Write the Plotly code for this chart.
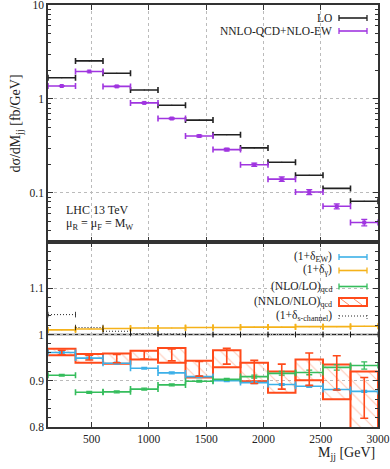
import plotly.graph_objects as go

# -----------------------------
# Data
# -----------------------------
bin_edges = [120, 360, 600, 840, 1080, 1320, 1560, 1800, 2040, 2280, 2520, 2760, 3000]

lo_xsec = [1.68, 2.54, 1.88, 1.245, 0.857, 0.595, 0.416, 0.301, 0.212, 0.154, 0.1116, 0.0813]
nnlo_xsec = [1.373, 1.96, 1.36, 0.907, 0.619, 0.403, 0.289, 0.199, 0.140, 0.102, 0.072, 0.0484]
nnlo_relerr = [0.005, 0.005, 0.01, 0.01, 0.015, 0.02, 0.03, 0.04, 0.055, 0.06, 0.06, 0.08]

delta_ew = [0.961, 0.949, 0.938, 0.927, 0.917, 0.909, 0.900, 0.896, 0.892, 0.888, 0.881, 0.877]
delta_gamma = [1.010, 1.012, 1.013, 1.014, 1.014, 1.015, 1.015, 1.016, 1.016, 1.017, 1.017, 1.018]
nlo_lo_qcd = [0.912, 0.875, 0.876, 0.882, 0.891, 0.899, 0.903, 0.909, 0.916, 0.918, 0.929, 0.933]
nlo_lo_err = [0.002, 0.002, 0.002, 0.002, 0.002, 0.002, 0.002, 0.003, 0.004, 0.005, 0.006, 0.008]
nnlo_nlo_qcd = [0.961, 0.950, 0.948, 0.956, 0.956, 0.926, 0.953, 0.919, 0.909, 0.925, 0.917, 0.863]
nnlo_nlo_err = [0.005, 0.005, 0.009, 0.009, 0.013, 0.016, 0.017, 0.025, 0.027, 0.035, 0.037, 0.044]
nnlo_nlo_band_lo = [0.955, 0.939, 0.937, 0.946, 0.939, 0.907, 0.929, 0.899, 0.874, 0.901, 0.860, 0.780]
nnlo_nlo_band_hi = [0.969, 0.958, 0.959, 0.965, 0.971, 0.943, 0.966, 0.939, 0.920, 0.946, 0.935, 0.920]
delta_schannel = [1.043, 1.015, 1.007, 1.002, 1.001, 1.000, 1.000, 1.000, 1.000, 1.000, 1.000, 1.000]

centers = [(a + b) / 2 for a, b in zip(bin_edges[:-1], bin_edges[1:])]
half_w = [(b - a) / 2 for a, b in zip(bin_edges[:-1], bin_edges[1:])]

# -----------------------------
# Style
# -----------------------------
FONT = "Liberation Serif"
C_LO = "#222222"
C_NNLO = "#a035e0"
C_EW = "#3cb0e8"
C_GAM = "#f5b21a"
C_NLO = "#35bd5c"
C_RED = "#ff4a1a"
SPLIT = 0.4384  # lower panel fraction of plot height

fig = go.Figure()


def hbins(y, color, xaxis, yaxis, yerr=None, marker=False):
    return go.Scatter(
        x=centers, y=y, xaxis=xaxis, yaxis=yaxis, mode="markers",
        marker=dict(color=color, size=4 if marker else 1, symbol="square"),
        error_x=dict(type="data", array=half_w, color=color, thickness=1.6, width=3),
        error_y=dict(type="data", array=yerr, color=color, thickness=1.3, width=3,
                     visible=yerr is not None),
        showlegend=False, hoverinfo="skip",
    )


# upper panel
fig.add_trace(hbins(lo_xsec, C_LO, "x", "y"))
fig.add_trace(hbins(nnlo_xsec, C_NNLO, "x", "y",
                    yerr=[v * e for v, e in zip(nnlo_xsec, nnlo_relerr)], marker=True))

# lower panel: hatched NNLO/NLO band
fig.add_trace(go.Bar(
    x=centers, y=[h - l for h, l in zip(nnlo_nlo_band_hi, nnlo_nlo_band_lo)],
    base=nnlo_nlo_band_lo, width=[2 * w for w in half_w], xaxis="x2", yaxis="y2",
    marker=dict(color="rgba(0,0,0,0)", line=dict(color=C_RED, width=2),
                pattern=dict(shape="\\", fgcolor="rgba(255,110,60,0.75)",
                             bgcolor="rgba(0,0,0,0)", size=9, solidity=0.12)),
    showlegend=False, hoverinfo="skip",
))

fig.add_trace(hbins(delta_ew, C_EW, "x2", "y2", yerr=[0.002] * 12))
fig.add_trace(hbins(delta_gamma, C_GAM, "x2", "y2"))
fig.add_trace(hbins(nlo_lo_qcd, C_NLO, "x2", "y2", yerr=nlo_lo_err))

# NNLO/NLO central values with error bars
fig.add_trace(go.Scatter(
    x=centers, y=nnlo_nlo_qcd, xaxis="x2", yaxis="y2", mode="markers",
    marker=dict(color=C_RED, size=1),
    error_y=dict(type="data", array=nnlo_nlo_err, color=C_RED, thickness=1.6, width=4),
    showlegend=False, hoverinfo="skip",
))

# s-channel: dotted segments with dotted caps
sx, sy = [], []
for a, b, v in zip(bin_edges[:-1], bin_edges[1:], delta_schannel):
    sx += [a, b, None]
    sy += [v, v, None]
fig.add_trace(go.Scatter(x=sx, y=sy, xaxis="x2", yaxis="y2", mode="lines",
                         line=dict(color="#111111", width=0.9, dash="1px,2px"),
                         showlegend=False, hoverinfo="skip"))
fig.add_trace(go.Scatter(
    x=bin_edges[:-1] + bin_edges[1:], y=delta_schannel + delta_schannel,
    xaxis="x2", yaxis="y2", mode="markers",
    marker=dict(symbol="line-ns", size=4, line=dict(color="#111111", width=0.8)),
    showlegend=False, hoverinfo="skip"))

# -----------------------------
# Axes
# -----------------------------
tickfont = dict(family=FONT, size=11.5, color="#222")
common_x = dict(range=[120, 3000], ticks="inside", ticklen=5, tickwidth=1, tickcolor="#333",
                showline=True, linecolor="#333", linewidth=1.5, mirror="ticks",
                showgrid=True, gridcolor="#bbbbbb", griddash="dot", gridwidth=1,
                tickvals=[500, 1000, 1500, 2000, 2500, 3000], zeroline=False,
                automargin=False, ticklabeloverflow="allow")

fig.update_layout(
    width=390, height=469,
    margin=dict(l=48, r=12, t=5, b=42),
    paper_bgcolor="white", plot_bgcolor="white",
    barmode="overlay",
    xaxis=dict(**common_x, domain=[0, 1], anchor="y", showticklabels=False),
    yaxis=dict(type="log", range=[-1.5229, 1], domain=[SPLIT, 1], anchor="x",
               ticks="inside", ticklen=5, tickcolor="#333", tickfont=tickfont,
               tickvals=[0.1, 1, 10], ticktext=["0.1", "1", "10"],
               minor=dict(ticks="inside", ticklen=3, tickcolor="#333", dtick="D1", showgrid=False),
               showline=True, linecolor="#333", linewidth=1.5, mirror="ticks",
               showgrid=True, gridcolor="#bbbbbb", griddash="dot", automargin=False,
               ticklabeloverflow="allow",
               title=dict(text="dσ/dM<sub>jj</sub> [fb/GeV]",
                          font=dict(family=FONT, size=14, color="#222"), standoff=6)),
    xaxis2=dict(**common_x, domain=[0, 1], anchor="y2", tickfont=tickfont),
    yaxis2=dict(range=[0.8, 1.2], domain=[0, SPLIT], anchor="x2",
                ticks="inside", ticklen=5, tickcolor="#333", tickfont=tickfont,
                tickvals=[0.8, 0.9, 1.0, 1.1], ticktext=["0.8", "0.9", "1", "1.1"],
                minor=dict(ticks="inside", ticklen=3, tickcolor="#333", dtick=0.02, showgrid=False),
                showline=True, linecolor="#333", linewidth=1.5, mirror="ticks",
                showgrid=True, gridcolor="#bbbbbb", griddash="dot", zeroline=False,
                automargin=False, ticklabeloverflow="allow"),
)

# ratio = 1 reference line
fig.add_hline(y=1.0, line=dict(color="#333", width=1.6), xref="x2", yref="y2",
              layer="below")

# -----------------------------
# Text and legends
# -----------------------------
W, H = 330.0, 422.0  # plot area size in px


def px(x, y):
    return (x - 48) / W, (427 - y) / H


annots = [
    ("M<sub>jj</sub> [GeV]", 377, 453, "right", 14),
    ("LHC 13 TeV", 64, 210, "left", 12),
    ("μ<sub>R</sub> = μ<sub>F</sub> = M<sub>W</sub>", 64, 224, "left", 12),
]
for text, x, y, anchor, size in annots:
    ax, ay = px(x, y)
    fig.add_annotation(text=text, x=ax, y=ay, xref="paper", yref="paper",
                       xanchor=anchor, yanchor="middle", showarrow=False,
                       font=dict(family=FONT, size=size, color="#222"))

legend_rows = [
    ("LO", C_LO, 18),
    ("NNLO-QCD+NLO-EW", C_NNLO, 31),
    ("(1+δ<sub>EW</sub>)", C_EW, 257),
    ("(1+δ<sub>γ</sub>)", C_GAM, 270.5),
    ("(NLO/LO)<sub>qcd</sub>", C_NLO, 286.5),
    ("(NNLO/NLO)<sub>qcd</sub>", C_RED, 302),
    ("(1+δ<sub>s-channel</sub>)", "#111111", 316),
]
for text, color, y in legend_rows:
    tx, ty = px(334, y)
    fig.add_annotation(text=text, x=tx, y=ty, xref="paper", yref="paper",
                       xanchor="right", yanchor="middle", showarrow=False,
                       font=dict(family=FONT, size=11.5, color="#222"))
    x0, _ = px(339, y)
    x1, _ = px(367, y)
    if color == C_RED:
        _, y0 = px(0, 306)
        _, y1 = px(0, 298)
        fig.add_shape(type="rect", x0=x0, x1=x1, y0=y0, y1=y1, xref="paper", yref="paper",
                      line=dict(color=C_RED, width=2))
        for k in range(2):
            a0, b0 = px(341 + 13 * k, 299)
            a1, b1 = px(349 + 13 * k, 305)
            fig.add_shape(type="line", x0=a0, y0=b0, x1=a1, y1=b1, xref="paper",
                          yref="paper", line=dict(color="rgba(255,110,60,0.8)", width=1))
        continue
    dash = "1px,2px" if color == "#111111" else "solid"
    fig.add_shape(type="line", x0=x0, x1=x1, y0=ty, y1=ty, xref="paper", yref="paper",
                  line=dict(color=color, width=1.6 if dash == "solid" else 0.9, dash=dash))
    cap = 3.0 / H
    for xc in (x0, x1):
        fig.add_shape(type="line", x0=xc, x1=xc, y0=ty - cap, y1=ty + cap, xref="paper",
                      yref="paper", line=dict(color=color, width=1.3 if dash == "solid" else 0.8,
                                              dash=dash))

# page body has a default margin; drop it so the figure sits at the window origin
fig.write_html("out.html", config={"displayModeBar": False},
               post_script="document.body.style.margin='0';document.body.style.overflow='hidden';")
